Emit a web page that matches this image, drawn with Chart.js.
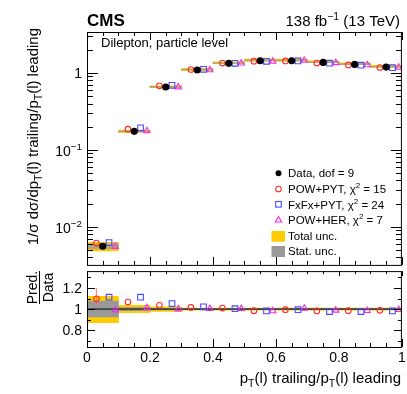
<!DOCTYPE html>
<html>
<head>
<meta charset="utf-8">
<script src="https://cdn.jsdelivr.net/npm/chart.js@4.4.0/dist/chart.umd.min.js"></script>
<style>
  html, body { margin: 0; padding: 0; background: #fff; }
  #wrap { position: relative; width: 407px; height: 394px; overflow: hidden; }
  .box { position: absolute; left: 0; width: 407px; }
  #mainBox { top: 0; height: 270px; }
  #ratioBox { top: 266px; height: 128px; }
</style>
</head>
<body>
<div id="wrap">
  <div class="box" id="mainBox"><canvas id="main"></canvas></div>
  <div class="box" id="ratioBox"><canvas id="ratio"></canvas></div>
</div>
<script>
const FONT = "'Liberation Sans', Arial, Helvetica, sans-serif";

// bins of pT(l) trailing / pT(l) leading, width 0.1
const binCenters = [0.05, 0.15, 0.25, 0.35, 0.45, 0.55, 0.65, 0.75, 0.85, 0.95];
const dataValues = [0.0056, 0.174, 0.655, 1.09, 1.33, 1.44, 1.44, 1.37, 1.29, 1.19];

// prediction / data
const powPytRatio = [1.097, 1.067, 1.036, 1.015, 1.009, 0.985, 0.994, 0.982, 0.985, 0.988];
const fxfxRatio   = [1.112, 1.112, 1.052, 1.021, 1.003, 0.982, 0.994, 0.976, 0.976, 0.982];
const powHerRatio = [0.990, 1.012, 1.000, 1.003, 1.003, 0.982, 1.006, 0.988, 0.985, 0.994];

// relative uncertainty bands
const totUncLo  = [0.870, 0.966, 0.978, 0.990, 0.990, 0.990, 0.990, 0.990, 0.990, 0.990];
const totUncHi  = [1.120, 1.035, 1.020, 1.010, 1.010, 1.010, 1.010, 1.010, 1.010, 1.010];
const statUncLo = [0.925, 0.985, 0.992, 0.995, 0.995, 0.995, 0.995, 0.995, 0.995, 0.995];
const statUncHi = [1.075, 1.015, 1.008, 1.005, 1.005, 1.005, 1.005, 1.005, 1.005, 1.005];

// POW+PYT error bar in first ratio bin
const ppErrLo = [1.035];
const ppErrHi = [1.20];

const xTickLabels = ['0', '0.2', '0.4', '0.6', '0.8', '1'];
const ratioTickLabels = ['0.8', '1', '1.2'];

// marker offsets inside a bin (as in the CMS plot)
const SHIFT = { data: 0, pp: -0.02, fx: 0.02, ph: 0.04 };
const COL = { pp: '#ff2a2a', fx: '#4a4aff', ph: '#f02cf0', tot: '#ffcc00', stat: '#999999' };

function font(size, bold) { return (bold ? 'bold ' : '') + size + 'px ' + FONT; }

function drawRich(ctx, parts, x, y, size, align) {
  let w = 0;
  parts.forEach(p => { ctx.font = font(p[1] ? size * 0.7 : size); w += ctx.measureText(p[0]).width; });
  let cx = align === 'right' ? x - w : align === 'center' ? x - w / 2 : x;
  ctx.textAlign = 'left';
  ctx.textBaseline = 'alphabetic';
  parts.forEach(p => {
    ctx.font = font(p[1] ? size * 0.7 : size);
    const dy = p[1] === 1 ? -size * 0.42 : p[1] === -1 ? size * 0.3 : 0;
    ctx.fillText(p[0], cx, y + dy);
    cx += ctx.measureText(p[0]).width;
  });
  return w;
}

function tickX(ctx, area, scale, vals, lenTop, lenBot) {
  vals.forEach(v => {
    const px = Math.round(scale.getPixelForValue(v)) + 0.5;
    if (lenTop) { ctx.moveTo(px, area.top); ctx.lineTo(px, area.top + lenTop); }
    if (lenBot) { ctx.moveTo(px, area.bottom); ctx.lineTo(px, area.bottom - lenBot); }
  });
}
function tickY(ctx, area, scale, vals, len) {
  vals.forEach(v => {
    const py = Math.round(scale.getPixelForValue(v)) + 0.5;
    if (py < area.top || py > area.bottom) return;
    ctx.moveTo(area.left, py); ctx.lineTo(area.left + len, py);
    ctx.moveTo(area.right, py); ctx.lineTo(area.right - len, py);
  });
}

function frame(ctx, area) {
  ctx.strokeRect(area.left + 0.5, area.top + 0.5, area.right - area.left - 1, area.bottom - area.top);
}

const xMajor = [0, 0.2, 0.4, 0.6, 0.8, 1];
const xMinor = [];
for (let i = 1; i < 20; i++) if (i % 4) xMinor.push(i * 0.05);

function pts(vals, shift, ratio) {
  return binCenters.map((c, i) => ({ x: c + shift, y: ratio ? vals[i] * ratio[i] : vals[i] }));
}
function band(lo, hi, scaleVals) {
  return binCenters.map((c, i) => ({
    x: c, y: scaleVals ? [scaleVals[i] * lo[i], scaleVals[i] * hi[i]] : [lo[i], hi[i]]
  }));
}

function marker(type, color, label, data, r, ord) {
  return {
    type: 'scatter', label: label, data: data, order: ord,
    pointStyle: type, pointRadius: r, pointHoverRadius: r,
    pointBorderWidth: 1.1,
    borderColor: color, backgroundColor: type === 'circle' && color === '#000' ? '#000' : 'rgba(0,0,0,0)'
  };
}
function bandSet(label, color, data, ord, minLen) {
  return {
    type: 'bar', label: label, data: data, order: ord, grouped: false,
    backgroundColor: color, borderWidth: 0, barPercentage: 1, categoryPercentage: 1,
    minBarLength: minLen
  };
}

const mainPlugin = {
  id: 'mainDeco',
  afterDatasetsDraw(chart) {
    const ctx = chart.ctx, a = chart.chartArea;
    const xs = chart.scales.x, ys = chart.scales.y;
    ctx.save();
    ctx.strokeStyle = '#000';
    ctx.lineWidth = 1;
    ctx.beginPath();
    tickX(ctx, a, xs, xMajor, 8, 8);
    tickX(ctx, a, xs, xMinor, 4, 4);
    const dec = [0.01, 0.1, 1];
    tickY(ctx, a, ys, dec, 11);
    const minor = [];
    [0.001, 0.01, 0.1, 1].forEach(d => { for (let k = 2; k <= 9; k++) minor.push(k * d); });
    tickY(ctx, a, ys, minor, 6);
    ctx.stroke();
    frame(ctx, a);

    ctx.fillStyle = '#000';
    // y tick labels
    drawRich(ctx, [['1', 0]], 82, ys.getPixelForValue(1) + 5, 14, 'right');
    drawRich(ctx, [['10', 0], ['\u22121', 1]], 82, ys.getPixelForValue(0.1) + 6, 14, 'right');
    drawRich(ctx, [['10', 0], ['\u22122', 1]], 82, ys.getPixelForValue(0.01) + 6, 14, 'right');

    // header
    ctx.font = font(17, true);
    ctx.textAlign = 'left';
    ctx.fillText('CMS', 87, 26);
    drawRich(ctx, [['138 fb', 0], ['\u22121', 1], [' (13 TeV)', 0]], 400, 26, 15, 'right');
    drawRich(ctx, [['Dilepton, particle level', 0]], 101, 46.5, 13, 'left');

    // y title
    ctx.save();
    ctx.translate(37.5, 0);
    ctx.rotate(-Math.PI / 2);
    drawRich(ctx, [['1/\u03c3 d\u03c3/dp', 0], ['T', -1], ['(l) trailing/p', 0], ['T', -1], ['(l) leading', 0]],
      -28, 0, 15, 'right');
    ctx.restore();

    // legend
    const lx = 278.5, tx = 288, fs = 11.5;
    ctx.lineWidth = 1.1;
    ctx.fillStyle = '#000';
    ctx.beginPath(); ctx.arc(lx, 173.3, 3, 0, Math.PI * 2); ctx.fill();
    ctx.strokeStyle = COL.pp;
    ctx.beginPath(); ctx.arc(lx, 189, 2.8, 0, Math.PI * 2); ctx.stroke();
    ctx.strokeStyle = COL.fx;
    ctx.strokeRect(lx - 2.8, 204.3 - 2.8, 5.6, 5.6);
    ctx.strokeStyle = COL.ph;
    ctx.beginPath(); ctx.moveTo(lx, 216.6); ctx.lineTo(lx + 3.2, 222); ctx.lineTo(lx - 3.2, 222); ctx.closePath(); ctx.stroke();
    ctx.fillStyle = COL.tot; ctx.fillRect(271.5, 231, 13.5, 10.7);
    ctx.fillStyle = COL.stat; ctx.fillRect(271.5, 246, 13.5, 11);
    ctx.fillStyle = '#000';
    drawRich(ctx, [['Data, dof = 9', 0]], tx, 177.3, fs, 'left');
    drawRich(ctx, [['POW+PYT, \u03c7', 0], ['2', 1], [' = 15', 0]], tx, 193.3, fs, 'left');
    drawRich(ctx, [['FxFx+PYT, \u03c7', 0], ['2', 1], [' = 24', 0]], tx, 208.5, fs, 'left');
    drawRich(ctx, [['POW+HER, \u03c7', 0], ['2', 1], [' = 7', 0]], tx, 224, fs, 'left');
    drawRich(ctx, [['Total unc.', 0]], tx, 240, fs, 'left');
    drawRich(ctx, [['Stat. unc.', 0]], tx, 255, fs, 'left');
    ctx.restore();
  }
};

const ratioPlugin = {
  id: 'ratioDeco',
  afterDatasetsDraw(chart) {
    const ctx = chart.ctx, a = chart.chartArea;
    const xs = chart.scales.x, ys = chart.scales.y;
    ctx.save();
    ctx.strokeStyle = '#000';
    ctx.lineWidth = 1;
    ctx.beginPath();
    tickX(ctx, a, xs, xMajor, 5, 8);
    tickX(ctx, a, xs, xMinor, 3, 4);
    tickY(ctx, a, ys, [0.8, 1.0, 1.2], 8);
    tickY(ctx, a, ys, [0.7, 0.9, 1.1, 1.3], 4);
    ctx.stroke();
    frame(ctx, a);

    ctx.fillStyle = '#000';
    [0.8, 1, 1.2].forEach((v, i) => drawRich(ctx, [[ratioTickLabels[i], 0]], 82, ys.getPixelForValue(v) + 5, 14, 'right'));
    xMajor.forEach((v, i) => drawRich(ctx, [[xTickLabels[i], 0]], xs.getPixelForValue(v), 95.5, 14, 'center'));

    drawRich(ctx, [['p', 0], ['T', -1], ['(l) trailing/p', 0], ['T', -1], ['(l) leading', 0]], 401, 116.5, 15, 'right');

    // Pred./Data fraction
    ctx.save();
    ctx.translate(0, 21.5);
    ctx.rotate(-Math.PI / 2);
    drawRich(ctx, [['Pred.', 0]], 0, 36.5, 14, 'center');
    drawRich(ctx, [['Data', 0]], 0, 53, 14, 'center');
    ctx.fillRect(-16.5, 39, 33, 1);
    ctx.restore();
    ctx.restore();
  }
};

const xScale = { type: 'linear', min: 0, max: 1, offset: false, display: false, ticks: { stepSize: 0.1 } };

new Chart(document.getElementById('main'), {
  type: 'scatter',
  data: {
    datasets: [
      marker('circle', '#000', 'Data, dof = 9', pts(dataValues, SHIFT.data), 3, 0),
      marker('circle', COL.pp, 'POW+PYT', pts(dataValues, SHIFT.pp, powPytRatio), 2.8, 1),
      marker('rect', COL.fx, 'FxFx+PYT', pts(dataValues, SHIFT.fx, fxfxRatio), 4, 2),
      marker('triangle', COL.ph, 'POW+HER', pts(dataValues, SHIFT.ph, powHerRatio), 3.6, 3),
      bandSet('Stat. unc.', 'rgba(153,153,153,0.75)', band(statUncLo, statUncHi, dataValues), 5, 1),
      bandSet('Total unc.', COL.tot, band(totUncLo, totUncHi, dataValues), 6, 2)
    ]
  },
  options: {
    responsive: true, maintainAspectRatio: false, animation: false, devicePixelRatio: 1,
    layout: { padding: { top: 32, left: 87, right: 3, bottom: 2 } },
    scales: {
      x: xScale,
      y: { type: 'logarithmic', min: 0.0032, max: 3.4, display: false }
    },
    plugins: { legend: { display: false }, tooltip: { enabled: false } }
  },
  plugins: [mainPlugin]
});

new Chart(document.getElementById('ratio'), {
  type: 'scatter',
  data: {
    datasets: [
      marker('circle', COL.pp, 'POW+PYT', pts(powPytRatio, SHIFT.pp), 2.8, 1),
      marker('rect', COL.fx, 'FxFx+PYT', pts(fxfxRatio, SHIFT.fx), 4, 2),
      marker('triangle', COL.ph, 'POW+HER', pts(powHerRatio, SHIFT.ph), 3.6, 3),
      {
        type: 'scatter', label: 'POW+PYT err', order: 4, showLine: true, pointRadius: 0,
        borderColor: 'rgba(255,90,90,0.7)', borderWidth: 1.2,
        data: [{ x: binCenters[0] + SHIFT.pp, y: ppErrLo[0] }, { x: binCenters[0] + SHIFT.pp, y: ppErrHi[0] }]
      },
      {
        type: 'scatter', label: 'unity', order: 4, showLine: true, pointRadius: 0,
        borderColor: '#000', borderWidth: 1,
        data: [{ x: 0, y: 1 }, { x: 1, y: 1 }]
      },
      bandSet('Stat. unc.', COL.stat, band(statUncLo, statUncHi), 5, 1),
      bandSet('Total unc.', COL.tot, band(totUncLo, totUncHi), 6, 2)
    ]
  },
  options: {
    responsive: true, maintainAspectRatio: false, animation: false, devicePixelRatio: 1,
    layout: { padding: { top: 2, left: 87, right: 3, bottom: 47 } },
    scales: {
      x: xScale,
      y: { type: 'linear', min: 0.64, max: 1.36, beginAtZero: false, display: false }
    },
    plugins: { legend: { display: false }, tooltip: { enabled: false } }
  },
  plugins: [ratioPlugin]
});
</script>
</body>
</html>
